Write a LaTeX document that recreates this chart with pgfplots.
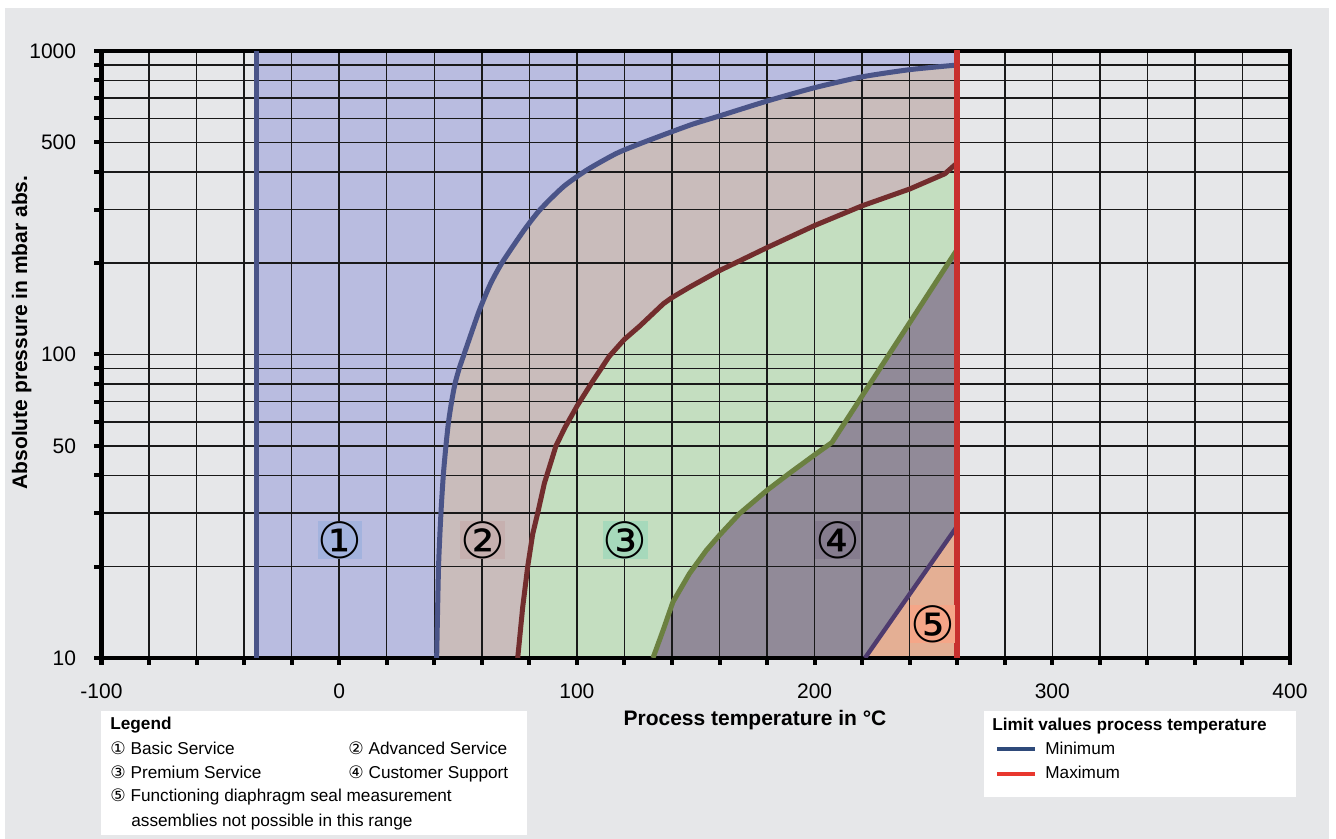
\documentclass[border=0pt]{standalone}
\usepackage{fontspec}
\setmainfont{Liberation Sans}
\newfontfamily\dejavu{DejaVu Sans}
\usepackage{pgfplots}
\pgfplotsset{compat=1.18}
\definecolor{bg}{HTML}{E6E7E9}
\definecolor{rOne}{HTML}{B9BCE0}
\definecolor{rTwo}{HTML}{C9BCBB}
\definecolor{rThree}{HTML}{C4DEC0}
\definecolor{rFour}{HTML}{918A98}
\definecolor{rFive}{HTML}{E4AF94}
\definecolor{bOne}{HTML}{A3B3DE}
\definecolor{bTwo}{HTML}{C6B0AF}
\definecolor{bThree}{HTML}{A6D9BB}
\definecolor{bFour}{HTML}{857C8E}
\definecolor{bFive}{HTML}{F5A688}
\definecolor{cBlue}{HTML}{4A5488}
\definecolor{cBrown}{HTML}{722D2D}
\definecolor{cGreen}{HTML}{6B8040}
\definecolor{cPurple}{HTML}{4E3B6E}
\definecolor{cRed}{HTML}{C8302E}
\definecolor{legBlue}{HTML}{2F4A7A}
\definecolor{legRed}{HTML}{E8372E}
\newcommand\lab{\fontsize{10.5bp}{12bp}\selectfont}
\newcommand\leg{\fontsize{8.6bp}{10bp}\selectfont}
\newcommand\circfont{\dejavu\fontsize{25bp}{25bp}\selectfont}
\newcommand\bluepts{(41,10) (41.8,20) (42.8,30) (43.8,40) (44.9,50) (46,60) (47.3,70) (48.7,80) (50.5,90) (52.5,100)
 (55,114) (59,140) (63.5,170) (68.4,200) (77.5,255) (84.5,300) (94.3,357) (104.1,405) (116.7,460) (128,500)
 (147.6,570) (160,611) (180,684) (200,757) (220,822) (240,868) (260,899)}
\newcommand\brownpts{(75.1,10) (77.2,14.7) (79.3,20) (81.4,25.6) (83.5,30) (86.3,37.6) (91.2,50) (95,57.5)
 (100,67.5) (106.6,81.5) (113.6,98.6) (119.9,112) (126.4,124) (136.4,147) (140,154) (147.6,167)
 (160,189) (180,225) (200,266) (220,309) (240,351) (254.8,394) (260,428)}
\newcommand\greenpts{(132,10) (136.2,12.3) (140.4,15.3) (147.4,19) (154.4,22.6) (160,25.4) (168.4,29.9) (180,35.7)
 (189.4,40.6) (200,46.7) (207.3,51.3) (260,222)}
\begin{document}
\begin{tikzpicture}
\fill[white] (0,0) rectangle (668bp,419.5bp);
\fill[bg] (2.5bp,0) rectangle (664.5bp,415.5bp);
% region fills (bottom axis, no decorations)
\begin{axis}[at={(50.75bp,90.5bp)}, anchor=south west,
  scale only axis, width=594.25bp, height=303.5bp,
  xmin=-100, xmax=400, ymode=log, ymin=10, ymax=1000, hide axis]
\addplot[fill=rOne, draw=none] coordinates {(-35,10) (-35,1000) (260,1000) (260,10)} -- cycle;
\addplot[fill=rTwo, draw=none] coordinates {(41,10) (41.8,20) (42.8,30) (43.8,40) (44.9,50) (46,60) (47.3,70) (48.7,80) (50.5,90) (52.5,100)
 (55,114) (59,140) (63.5,170) (68.4,200) (77.5,255) (84.5,300) (94.3,357) (104.1,405) (116.7,460) (128,500)
 (147.6,570) (160,611) (180,684) (200,757) (220,822) (240,868) (260,899) (260,10)} -- cycle;
\addplot[fill=rThree, draw=none] coordinates {(75.1,10) (77.2,14.7) (79.3,20) (81.4,25.6) (83.5,30) (86.3,37.6) (91.2,50) (95,57.5)
 (100,67.5) (106.6,81.5) (113.6,98.6) (119.9,112) (126.4,124) (136.4,147) (140,154) (147.6,167)
 (160,189) (180,225) (200,266) (220,309) (240,351) (254.8,394) (260,428) (260,10)} -- cycle;
\addplot[fill=rFour, draw=none] coordinates {(132,10) (136.2,12.3) (140.4,15.3) (147.4,19) (154.4,22.6) (160,25.4) (168.4,29.9) (180,35.7)
 (189.4,40.6) (200,46.7) (207.3,51.3) (260,222) (260,10)} -- cycle;
\addplot[fill=rFive, draw=none] coordinates {(221.2,10) (260,27.2) (260,10)} -- cycle;
\end{axis}
% grid, axes and boundary curves
\begin{axis}[at={(50.75bp,90.5bp)}, anchor=south west,
  scale only axis, width=594.25bp, height=303.5bp,
  xmin=-100, xmax=400, ymode=log, ymin=10, ymax=1000,
  xtick={-100,0,100,200,300,400}, xticklabels={-100,0,100,200,300,400},
  minor x tick num=4,
  ytick={10,50,100,500,1000}, yticklabels={10,50,100,500,1000},
  minor ytick={20,30,40,60,70,80,90,200,300,400,600,700,800,900},
  grid=both,
  major grid style={black!90, line width=0.75bp},
  minor grid style={black!90, line width=0.75bp},
  tick align=outside, tick pos=left,
  major tick length=3.5bp, minor tick length=3.5bp,
  every tick/.style={black, line width=2bp},
  axis line style={black, line width=2.2bp},
  /pgf/number format/assume math mode=true,
  xticklabel style={font=\lab, anchor=north, inner sep=0pt, yshift=-9bp},
  yticklabel style={font=\lab, anchor=east, inner sep=0pt, xshift=-9bp},
]
\addplot[cBlue, line width=2.5bp, line join=round] coordinates {(-35,10) (-35,1000)};
\addplot[cBlue, line width=2.5bp, smooth, tension=0.4] coordinates {\bluepts};
\addplot[cBrown, line width=2.5bp, line join=round] coordinates {\brownpts};
\addplot[cGreen, line width=2.5bp, line join=round] coordinates {\greenpts};
\addplot[cPurple, line width=2.2bp] coordinates {(221.2,10) (260,27.2)};
\addplot[cRed, line width=3bp, line cap=round] coordinates {(260,10) (260,1000)};
% region labels
\node[fill=bOne, minimum width=21.5bp, minimum height=19bp, inner sep=0pt, font=\circfont] at (axis cs:0.3,24.4) {①};
\node[fill=bTwo, minimum width=21.5bp, minimum height=19bp, inner sep=0pt, font=\circfont] at (axis cs:60.3,24.4) {②};
\node[fill=bThree, minimum width=21.5bp, minimum height=19bp, inner sep=0pt, font=\circfont] at (axis cs:120.4,24.4) {③};
\node[fill=bFour, minimum width=21.5bp, minimum height=19bp, inner sep=0pt, font=\circfont] at (axis cs:209.8,24.4) {④};
\node[fill=bFive, minimum width=21.5bp, minimum height=19bp, inner sep=0pt, font=\circfont] at (axis cs:249.6,12.9) {⑤};
\end{axis}
% axis labels
\node[font=\lab\bfseries, anchor=base] at (377.5bp,56.5bp) {Process temperature in °C};
\node[font=\lab\bfseries, anchor=base, rotate=90] at (13.5bp,253.25bp) {Absolute pressure in mbar abs.};
% legend 1
\fill[white] (50.5bp,2bp) rectangle (263.5bp,64bp);
\node[font=\leg\bfseries, anchor=base west, inner sep=0pt] at (55bp,54.5bp) {Legend};
\node[font=\leg, anchor=base west, inner sep=0pt] at (55bp,42bp) {{\dejavu ①} Basic Service};
\node[font=\leg, anchor=base west, inner sep=0pt] at (174bp,42bp) {{\dejavu ②} Advanced Service};
\node[font=\leg, anchor=base west, inner sep=0pt] at (55bp,30.5bp) {{\dejavu ③} Premium Service};
\node[font=\leg, anchor=base west, inner sep=0pt] at (174bp,30.5bp) {{\dejavu ④} Customer Support};
\node[font=\leg, anchor=base west, inner sep=0pt] at (55bp,18.6bp) {{\dejavu ⑤} Functioning diaphragm seal measurement};
\node[font=\leg, anchor=base west, inner sep=0pt] at (65.5bp,6.5bp) {assemblies not possible in this range};
% legend 2
\fill[white] (492bp,21bp) rectangle (648bp,64bp);
\node[font=\leg\bfseries, anchor=base west, inner sep=0pt] at (496bp,54.3bp) {Limit values process temperature};
\draw[legBlue, line width=2bp] (498.5bp,44.8bp) -- (517.5bp,44.8bp);
\draw[legRed, line width=2bp] (498.5bp,32.5bp) -- (517.5bp,32.5bp);
\node[font=\leg, anchor=base west, inner sep=0pt] at (522.5bp,42bp) {Minimum};
\node[font=\leg, anchor=base west, inner sep=0pt] at (522.5bp,30.5bp) {Maximum};
\end{tikzpicture}
\end{document}
